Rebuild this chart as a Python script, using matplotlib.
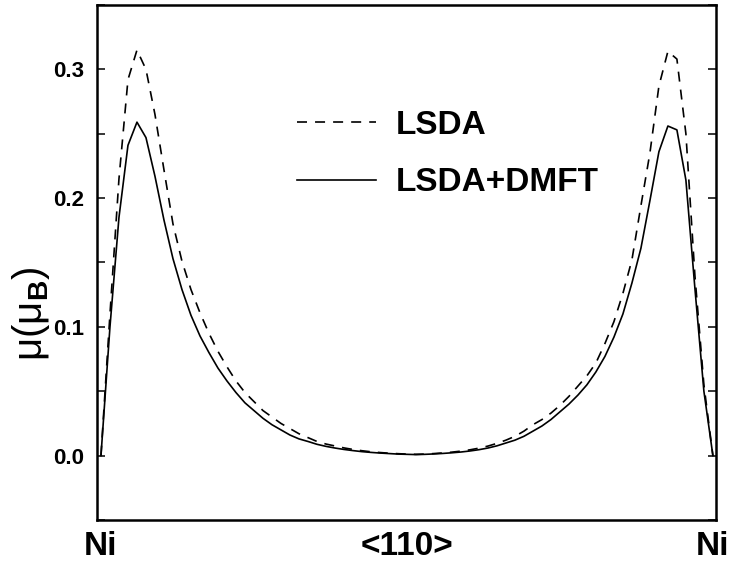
import numpy as np
import matplotlib
matplotlib.use("Agg")
import matplotlib.pyplot as plt
from matplotlib.ticker import MultipleLocator

plt.rcParams['font.family'] = ['Liberation Sans', 'DejaVu Sans']
plt.rcParams['mathtext.fontset'] = 'custom'
plt.rcParams['mathtext.rm'] = 'Liberation Sans'
plt.rcParams['mathtext.bf'] = 'Liberation Sans:bold'
plt.rcParams['lines.scale_dashes'] = False

# Path Ni -> <110> -> Ni, sampled at 69 points
lsda = [0.0, 0.110, 0.215, 0.292, 0.315, 0.300, 0.265, 0.222, 0.180, 0.151,
        0.129, 0.111, 0.095, 0.081, 0.069, 0.058, 0.049, 0.042, 0.035, 0.030,
        0.025, 0.021, 0.017, 0.014, 0.011, 0.009, 0.0075, 0.006, 0.0048, 0.0038,
        0.003, 0.0024, 0.0019, 0.0015, 0.0012, 0.0010, 0.0012, 0.0016, 0.0021, 0.0027,
        0.0035, 0.0045, 0.0058, 0.0074, 0.0095, 0.012, 0.015, 0.019, 0.024, 0.028,
        0.033, 0.039, 0.046, 0.054, 0.062, 0.072, 0.087, 0.104, 0.126, 0.152,
        0.194, 0.235, 0.287, 0.314, 0.308, 0.250, 0.140, 0.055, 0.0]
lsda_dmft = [0.0, 0.100, 0.185, 0.241, 0.259, 0.247, 0.217, 0.183, 0.153, 0.129,
             0.109, 0.093, 0.080, 0.068, 0.058, 0.049, 0.041, 0.035, 0.029, 0.024,
             0.020, 0.016, 0.013, 0.011, 0.0088, 0.0072, 0.0059, 0.0048, 0.0039, 0.0031,
             0.0025, 0.002, 0.0016, 0.0012, 0.001, 0.0008, 0.001, 0.0013, 0.0017, 0.0022,
             0.0028, 0.0036, 0.0046, 0.0059, 0.0076, 0.0098, 0.012, 0.015, 0.019, 0.023,
             0.028, 0.034, 0.040, 0.047, 0.055, 0.065, 0.077, 0.092, 0.110, 0.134,
             0.161, 0.198, 0.236, 0.256, 0.253, 0.214, 0.130, 0.050, 0.0]
x = np.linspace(0.0, 1.0, len(lsda))

xtick_labels = ['Ni', '<110>', 'Ni']
yticks = [0.0, 0.1, 0.2, 0.3]
series_labels = ['LSDA', 'LSDA+DMFT']

fig = plt.figure(figsize=(7.32, 5.67), dpi=100)
ax = fig.add_axes([0.1325, 0.0829, 0.8455, 0.9083])

ax.plot(x, lsda, color='black', lw=1.2, ls=(0, (7.2, 5.8)), label=series_labels[0])
ax.plot(x, lsda_dmft, color='black', lw=1.2, label=series_labels[1])

ax.set_xlim(-0.0065, 1.0049)
ax.set_ylim(-0.05, 0.35)

ax.set_yticks(yticks)
ax.set_yticklabels(['0.0', '0.1', '0.2', '0.3'], fontsize=16, fontweight='bold')
ax.yaxis.set_minor_locator(MultipleLocator(0.05))
ax.tick_params(axis='y', which='both', direction='in', length=5.8, width=1.1,
               left=True, right=True, pad=9)

ax.set_xticks([0.0, 0.5, 1.0])
ax.set_xticklabels(xtick_labels, fontsize=24, fontweight='bold')
ax.tick_params(axis='x', length=0, pad=8)

for s in ax.spines.values():
    s.set_linewidth(1.8)

ax.set_ylabel(r'$\mathrm{\mu(\mu}_{\mathbf{B}}\mathrm{)}$', fontsize=29)
ax.yaxis.set_label_coords(-0.073, 0.40)

leg = ax.legend(loc='upper left', bbox_to_anchor=(0.2755, 0.855), frameon=False,
                prop={'size': 24, 'weight': 'bold'}, handlelength=2.35,
                handletextpad=0.6, labelspacing=0.8)

fig.savefig('out.png', dpi=100)
